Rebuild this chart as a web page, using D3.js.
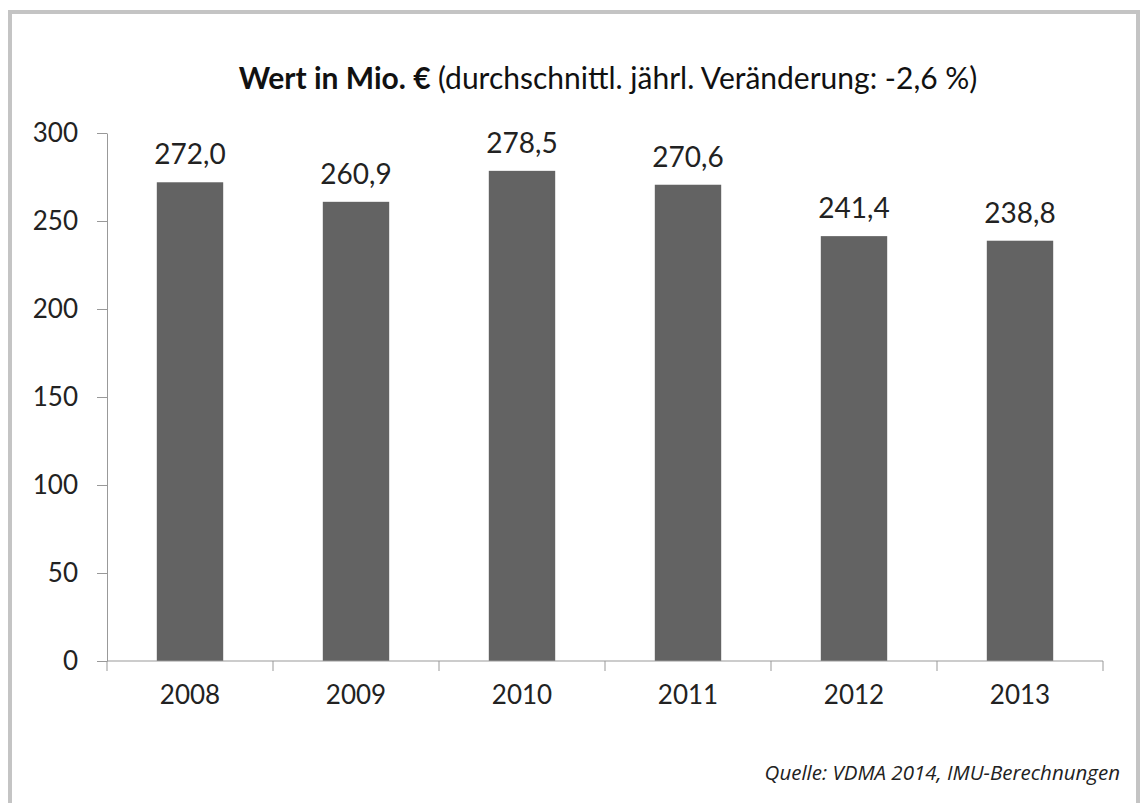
<!DOCTYPE html>
<html lang="de">
<head>
<meta charset="utf-8">
<title>Wert in Mio. €</title>
<script src="https://d3js.org/d3.v7.min.js"></script>
<style>
  body { margin: 0; background: #fff; }
  svg { display: block; }
  .tick text { font-family: Lato, "Open Sans", sans-serif; fill: #222; }
</style>
</head>
<body>
<div id="chart"></div>
<script>
// data
var years = ["2008", "2009", "2010", "2011", "2012", "2013"];
var values = [272.0, 260.9, 278.5, 270.6, 241.4, 238.8];
var yTicks = [0, 50, 100, 150, 200, 250, 300];

var w = 1142, h = 803;
var mLeft = 107, mRight = 1103, mTop = 133, mBottom = 661;

var svg = d3.select("#chart").append("svg")
    .attr("width", w)
    .attr("height", h);

// frame
svg.append("rect")
    .attr("x", 10).attr("y", 12)
    .attr("width", 1128).attr("height", 800)
    .attr("fill", "none")
    .attr("stroke", "#c4c4c4")
    .attr("stroke-width", 4);

var x = d3.scaleBand().domain(years).range([mLeft, mRight]).paddingInner(0.6).paddingOuter(0.3);
var y = d3.scaleLinear().domain([0, 300]).range([mBottom, mTop]);

// y axis
var yAxis = svg.append("g")
    .attr("transform", "translate(" + mLeft + ",0)")
    .call(d3.axisLeft(y).tickValues(yTicks).tickSize(10).tickPadding(19).tickSizeOuter(0));
yAxis.select(".domain").attr("stroke", "#999");
yAxis.selectAll(".tick line").attr("stroke", "#999");
yAxis.selectAll(".tick text").attr("font-size", 26);

// bars
svg.selectAll("rect.bar")
    .data(values)
    .enter()
    .append("rect")
    .attr("class", "bar")
    .attr("x", function(d, i) { return x(years[i]); })
    .attr("y", function(d) { return y(d); })
    .attr("width", x.bandwidth())
    .attr("height", function(d) { return y(0) - y(d); })
    .attr("fill", "#636363");

// x axis: ticks at category boundaries
var xb = d3.scaleLinear().domain([0, years.length]).range([mLeft, mRight]);
svg.append("line")
    .attr("x1", mLeft).attr("x2", mRight)
    .attr("y1", mBottom).attr("y2", mBottom)
    .attr("stroke", "#999");
svg.selectAll("line.xtick")
    .data(d3.range(years.length + 1))
    .enter()
    .append("line")
    .attr("class", "xtick")
    .attr("x1", function(d) { return xb(d); })
    .attr("x2", function(d) { return xb(d); })
    .attr("y1", mBottom).attr("y2", mBottom + 10)
    .attr("stroke", "#999");
svg.selectAll("text.year")
    .data(years)
    .enter()
    .append("text")
    .attr("class", "year")
    .attr("x", function(d) { return x(d) + x.bandwidth() / 2; })
    .attr("y", 704)
    .attr("text-anchor", "middle")
    .attr("font-family", "Lato, 'Open Sans', sans-serif")
    .attr("font-size", 26)
    .attr("fill", "#222")
    .text(function(d) { return d; });

// value labels
svg.selectAll("text.val")
    .data(values)
    .enter()
    .append("text")
    .attr("class", "val")
    .attr("x", function(d, i) { return x(years[i]) + x.bandwidth() / 2; })
    .attr("y", function(d) { return y(d) - 18; })
    .attr("text-anchor", "middle")
    .attr("font-family", "Lato, 'Open Sans', sans-serif")
    .attr("font-size", 28)
    .attr("fill", "#222")
    .text(function(d) { return d.toFixed(1).replace(".", ","); });

// title
var title = svg.append("text")
    .attr("x", 608).attr("y", 89)
    .attr("text-anchor", "middle")
    .attr("font-family", "Lato, 'Open Sans', sans-serif")
    .attr("font-size", 30)
    .attr("fill", "#111");
title.append("tspan").attr("font-weight", "bold").text("Wert in Mio. € ");
title.append("tspan").text("(durchschnittl. jährl. Veränderung: -2,6 %)");

// source
svg.append("text")
    .attr("x", 1120).attr("y", 780)
    .attr("text-anchor", "end")
    .attr("font-family", "'Open Sans', sans-serif")
    .attr("font-style", "italic")
    .attr("font-size", 20.5)
    .attr("fill", "#222")
    .text("Quelle: VDMA 2014, IMU-Berechnungen");
</script>
</body>
</html>
